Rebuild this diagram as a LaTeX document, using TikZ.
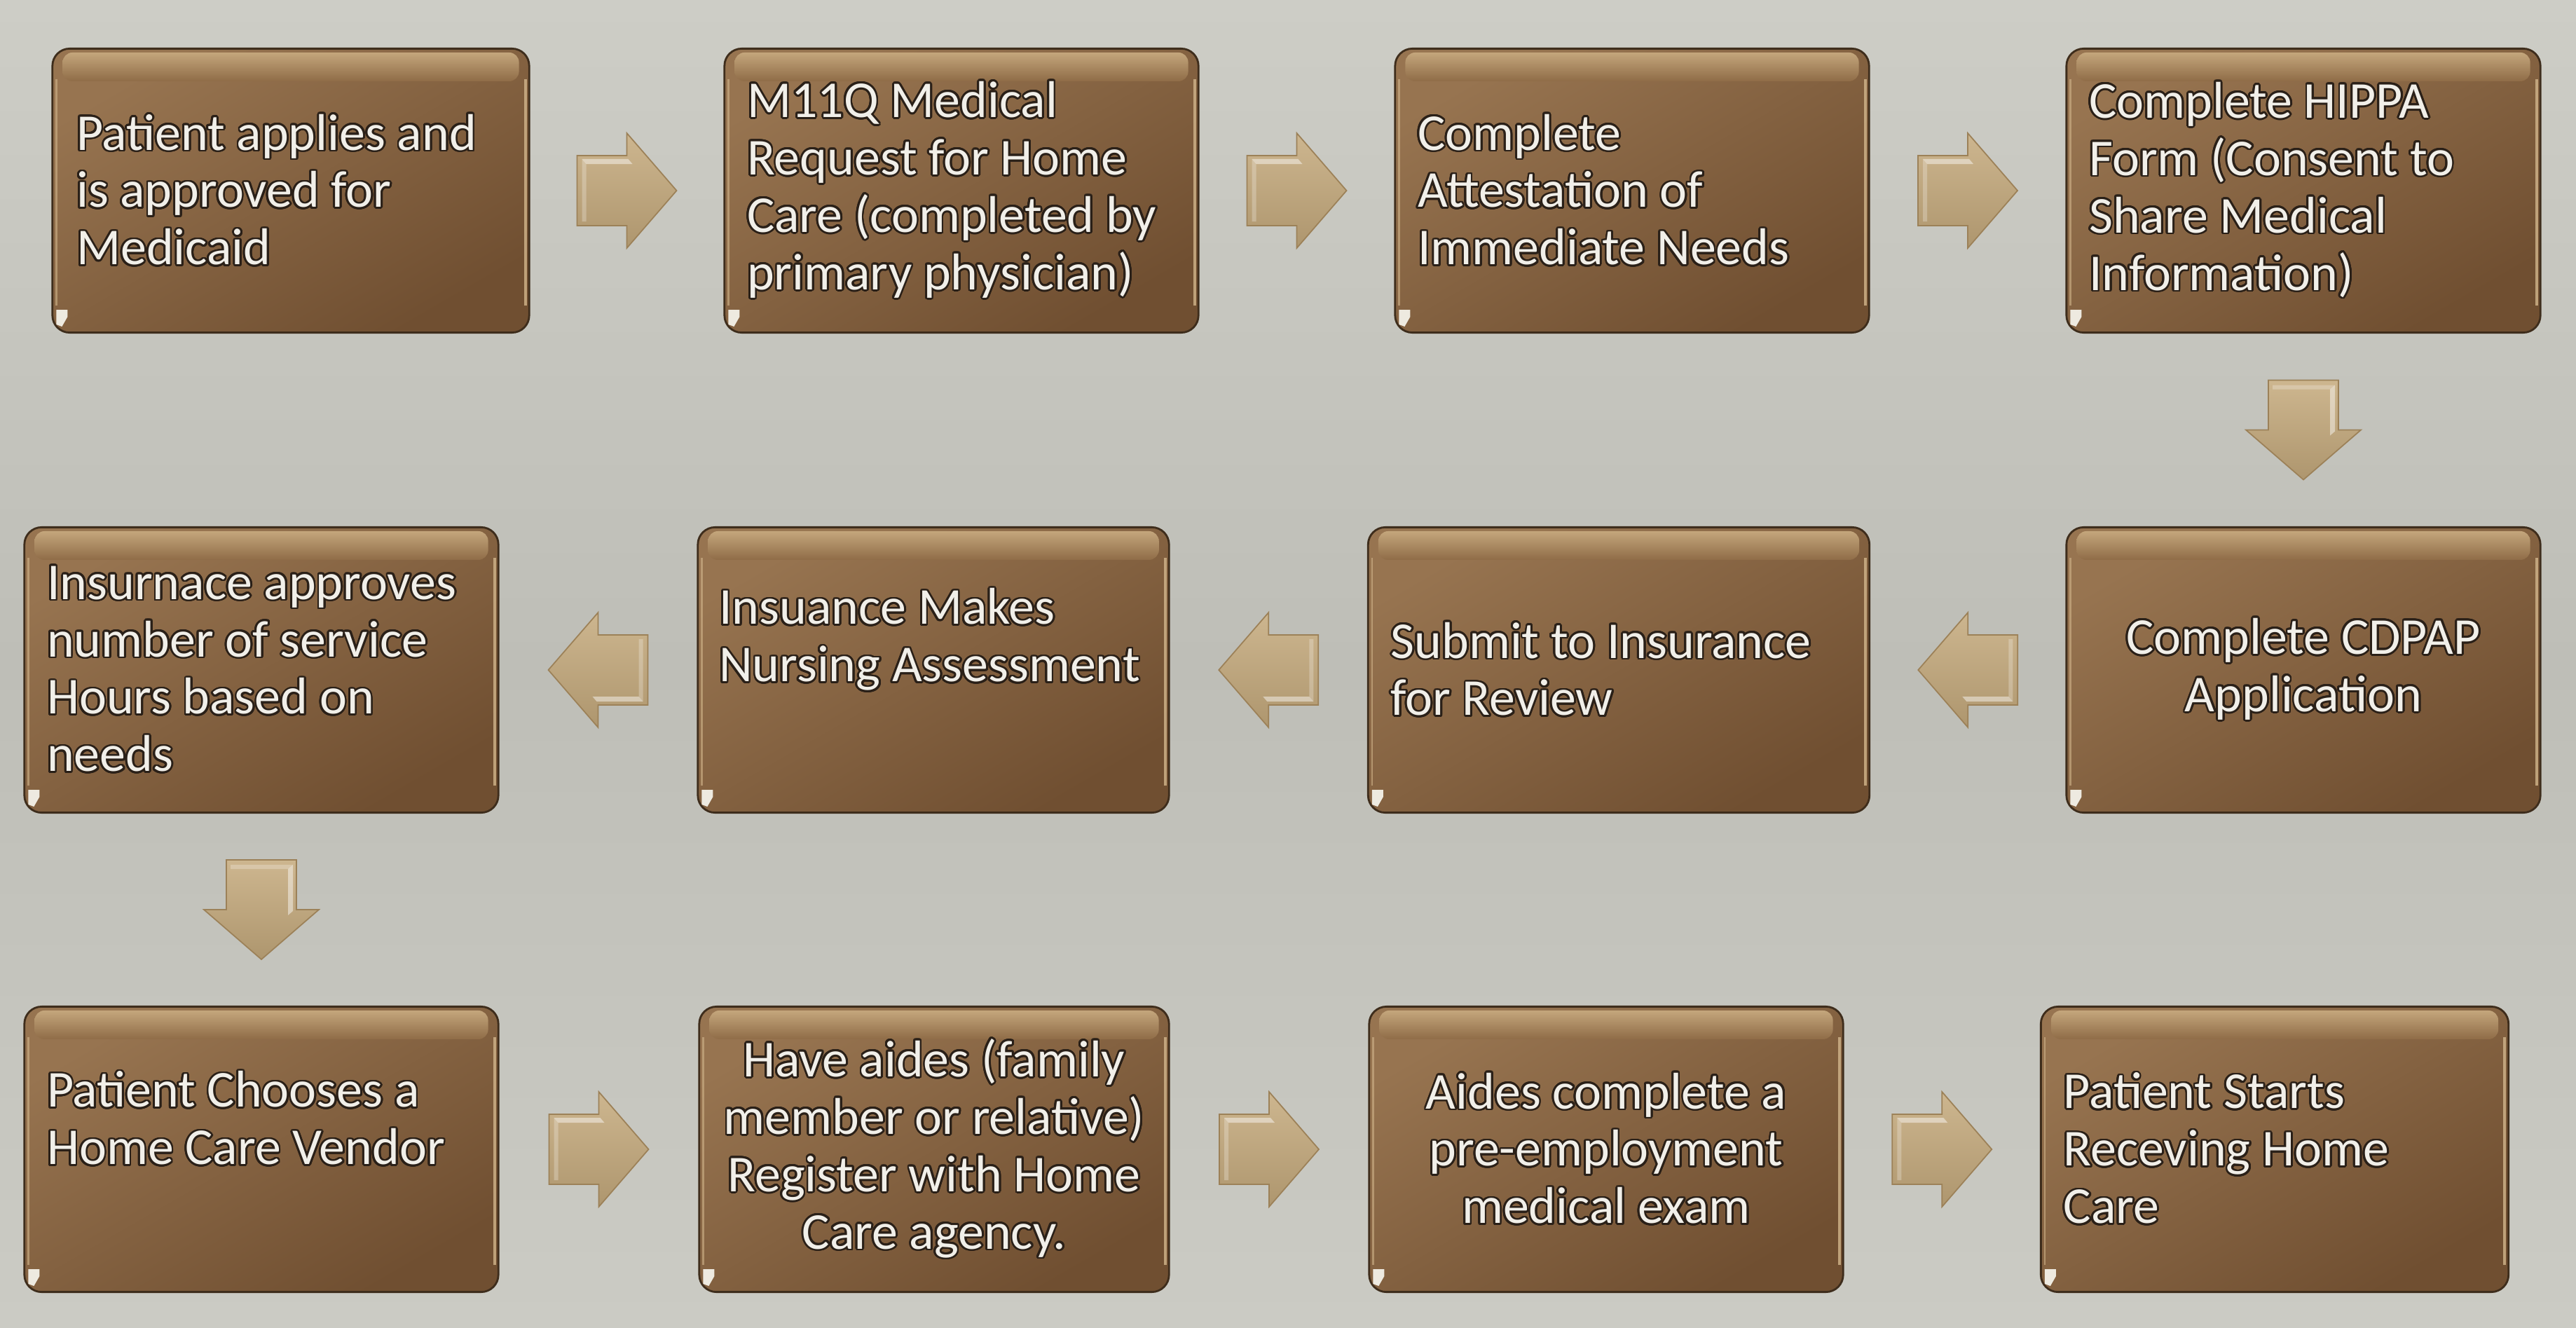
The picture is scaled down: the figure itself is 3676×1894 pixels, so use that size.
\documentclass[tikz,border=0pt]{standalone}
\usepackage{fontspec}
\setmainfont{Carlito}
\usepackage{contour}
\contourlength{0.8pt}
\contournumber{24}
\usetikzlibrary{calc}
\definecolor{bgT}{HTML}{CDCDC6}
\definecolor{bgM}{HTML}{BEBEB7}
\definecolor{bgB}{HTML}{CBCBC4}
\definecolor{boxT}{HTML}{977450}
\definecolor{boxB}{HTML}{704F31}
\definecolor{boxline}{HTML}{3E2D1C}
\definecolor{glossT}{HTML}{C4A67C}
\definecolor{glossB}{HTML}{8F6C47}
\definecolor{hl}{HTML}{D2B68C}
\definecolor{curlc}{HTML}{EEEAE0}
\definecolor{arrT}{HTML}{CDB68F}
\definecolor{arrB}{HTML}{AE966E}
\definecolor{arrline}{HTML}{9C8158}
\definecolor{txtc}{HTML}{F1EFE9}
\definecolor{outl}{HTML}{2A2018}
\newcommand{\otx}[1]{\contour{outl}{#1}}
\tikzset{
  stepbox/.style={rounded corners=7pt, minimum width=6.76cm, minimum height=4.05cm,
    draw=boxline, line width=0.8pt, top color=boxT, bottom color=boxB, shading angle=30, inner sep=0pt},
  txt/.style={inner sep=0pt, text=txtc, font=\fontsize{21pt}{23.3pt}\selectfont},
  pics/barrow/.style={code={
    \shade[top color=arrT, bottom color=arrB, draw=arrline, line width=0.5pt]
      (-71,-50) -- (0,-50) -- (0,-82) -- (71,0) -- (0,82) -- (0,50) -- (-71,50) -- cycle;
    \fill[white, opacity=0.45] (-64,-45) -- (2,-45) -- (8,-38) -- (-58,-38) -- cycle;
    \fill[white, opacity=0.25] (-64,-45) -- (-58,-38) -- (-58,44) -- (-64,44) -- cycle;
  }}
}
\begin{document}
\begin{tikzpicture}[x=0.01cm, y=-0.01cm]
\useasboundingbox (0,0) rectangle (3676,1894);
\shade[top color=bgT, bottom color=bgB, middle color=bgM] (0,0) rectangle (3676,1894);

% boxes
\node[stepbox, minimum width=6.80cm] (b1) at (415,272) {};
\node[stepbox] (b2) at (1372,272) {};
\node[stepbox] (b3) at (2329,272) {};
\node[stepbox] (b4) at (3287,272) {};
\node[stepbox, minimum height=4.07cm] (b5) at (373,956) {};
\node[stepbox, minimum height=4.07cm, minimum width=6.72cm] (b6) at (1332,956) {};
\node[stepbox, minimum height=4.07cm, minimum width=7.15cm] (b7) at (2310,956) {};
\node[stepbox, minimum height=4.07cm] (b8) at (3287,956) {};
\node[stepbox, minimum height=4.07cm] (b9) at (373,1640) {};
\node[stepbox, minimum height=4.07cm, minimum width=6.70cm] (b10) at (1333,1640) {};
\node[stepbox, minimum height=4.07cm] (b11) at (2292,1640) {};
\node[stepbox, minimum height=4.07cm, minimum width=6.67cm] (b12) at (3246,1640) {};

% glossy details
\foreach \b in {b1,b2,b3,b4,b5,b6,b7,b8,b9,b10,b11,b12}{
  \shade[top color=glossT, bottom color=glossB, rounded corners=4pt]
    ($(\b.north west)+(16,7)$) rectangle ($(\b.north east)+(-16,48)$);
  \draw[hl, line width=1.2pt, opacity=0.8] ($(\b.north east)+(-7,45)$) -- ($(\b.south east)+(-7,-40)$);
  \draw[hl, line width=0.8pt, opacity=0.6] ($(\b.north west)+(7,45)$) -- ($(\b.south west)+(7,-40)$);
  \fill[curlc] ($(\b.south west)+(7,-34)$) -- ++(16,0) -- ++(0,10) -- ++(-8,14) -- ++(-8,-3) -- cycle;
}

% arrows
\coordinate (a1) at ($(b1.east)!0.5!(b2.west)$);
\coordinate (a2) at ($(b2.east)!0.5!(b3.west)$);
\coordinate (a3) at ($(b3.east)!0.5!(b4.west)$);
\coordinate (a4) at ($(b4.south)!0.5!(b8.north)$);
\coordinate (a5) at ($(b8.west)!0.5!(b7.east)$);
\coordinate (a6) at ($(b7.west)!0.5!(b6.east)$);
\coordinate (a7) at ($(b6.west)!0.5!(b5.east)$);
\coordinate (a8) at ($(b5.south)!0.5!(b9.north)$);
\coordinate (a9) at ($(b9.east)!0.5!(b10.west)$);
\coordinate (a10) at ($(b10.east)!0.5!(b11.west)$);
\coordinate (a11) at ($(b11.east)!0.5!(b12.west)$);
\pic at (a1) {barrow};
\pic at (a2) {barrow};
\pic at (a3) {barrow};
\pic[rotate=-90] at (a4) {barrow};
\pic[rotate=180] at (a5) {barrow};
\pic[rotate=180] at (a6) {barrow};
\pic[rotate=180] at (a7) {barrow};
\pic[rotate=-90] at (a8) {barrow};
\pic at (a9) {barrow};
\pic at (a10) {barrow};
\pic at (a11) {barrow};

% texts
\node[txt, anchor=west, align=left] (t1) at ([xshift=0.35cm]b1.west)
  {\otx{Patient applies and}\\\otx{is approved for}\\\otx{Medicaid}};
\node[txt, anchor=west, align=left] (t2) at ([xshift=0.33cm]b2.west)
  {\otx{M11Q Medical}\\\otx{Request for Home}\\\otx{Care (completed by}\\\otx{primary physician)}};
\node[txt, anchor=west, align=left] (t3) at ([xshift=0.33cm]b3.west)
  {\otx{Complete}\\\otx{Attestation of}\\\otx{Immediate Needs}};
\node[txt, anchor=west, align=left] (t4) at ([xshift=0.33cm]b4.west)
  {\otx{Complete HIPPA}\\\otx{Form (Consent to}\\\otx{Share Medical}\\\otx{Information)}};
\node[txt, anchor=west, align=left] (t5) at ([xshift=0.33cm]b5.west)
  {\otx{Insurnace approves}\\\otx{number of service}\\\otx{Hours based on}\\\otx{needs}};
\node[txt, anchor=west, align=left] (t6) at ([xshift=0.31cm, yshift=0.42cm]b6.west)
  {\otx{Insuance Makes}\\\otx{Nursing Assessment}};
\node[txt, anchor=west, align=left] (t7) at ([xshift=0.33cm]b7.west)
  {\otx{Submit to Insurance}\\\otx{for Review}};
\node[txt, align=center] (t8) at (b8)
  {\otx{Complete CDPAP}\\\otx{Application}};
\node[txt, anchor=west, align=left] (t9) at ([xshift=0.33cm, yshift=0.43cm]b9.west)
  {\otx{Patient Chooses a}\\\otx{Home Care Vendor}};
\node[txt, align=center] (t10) at (b10)
  {\otx{Have aides (family}\\\otx{member or relative)}\\\otx{Register with Home}\\\otx{Care agency.}};
\node[txt, align=center] (t11) at (b11)
  {\otx{Aides complete a}\\\otx{pre-employment}\\\otx{medical exam}};
\node[txt, anchor=west, align=left] (t12) at ([xshift=0.33cm]b12.west)
  {\otx{Patient Starts}\\\otx{Receving Home}\\\otx{Care}};
\end{tikzpicture}
\end{document}
